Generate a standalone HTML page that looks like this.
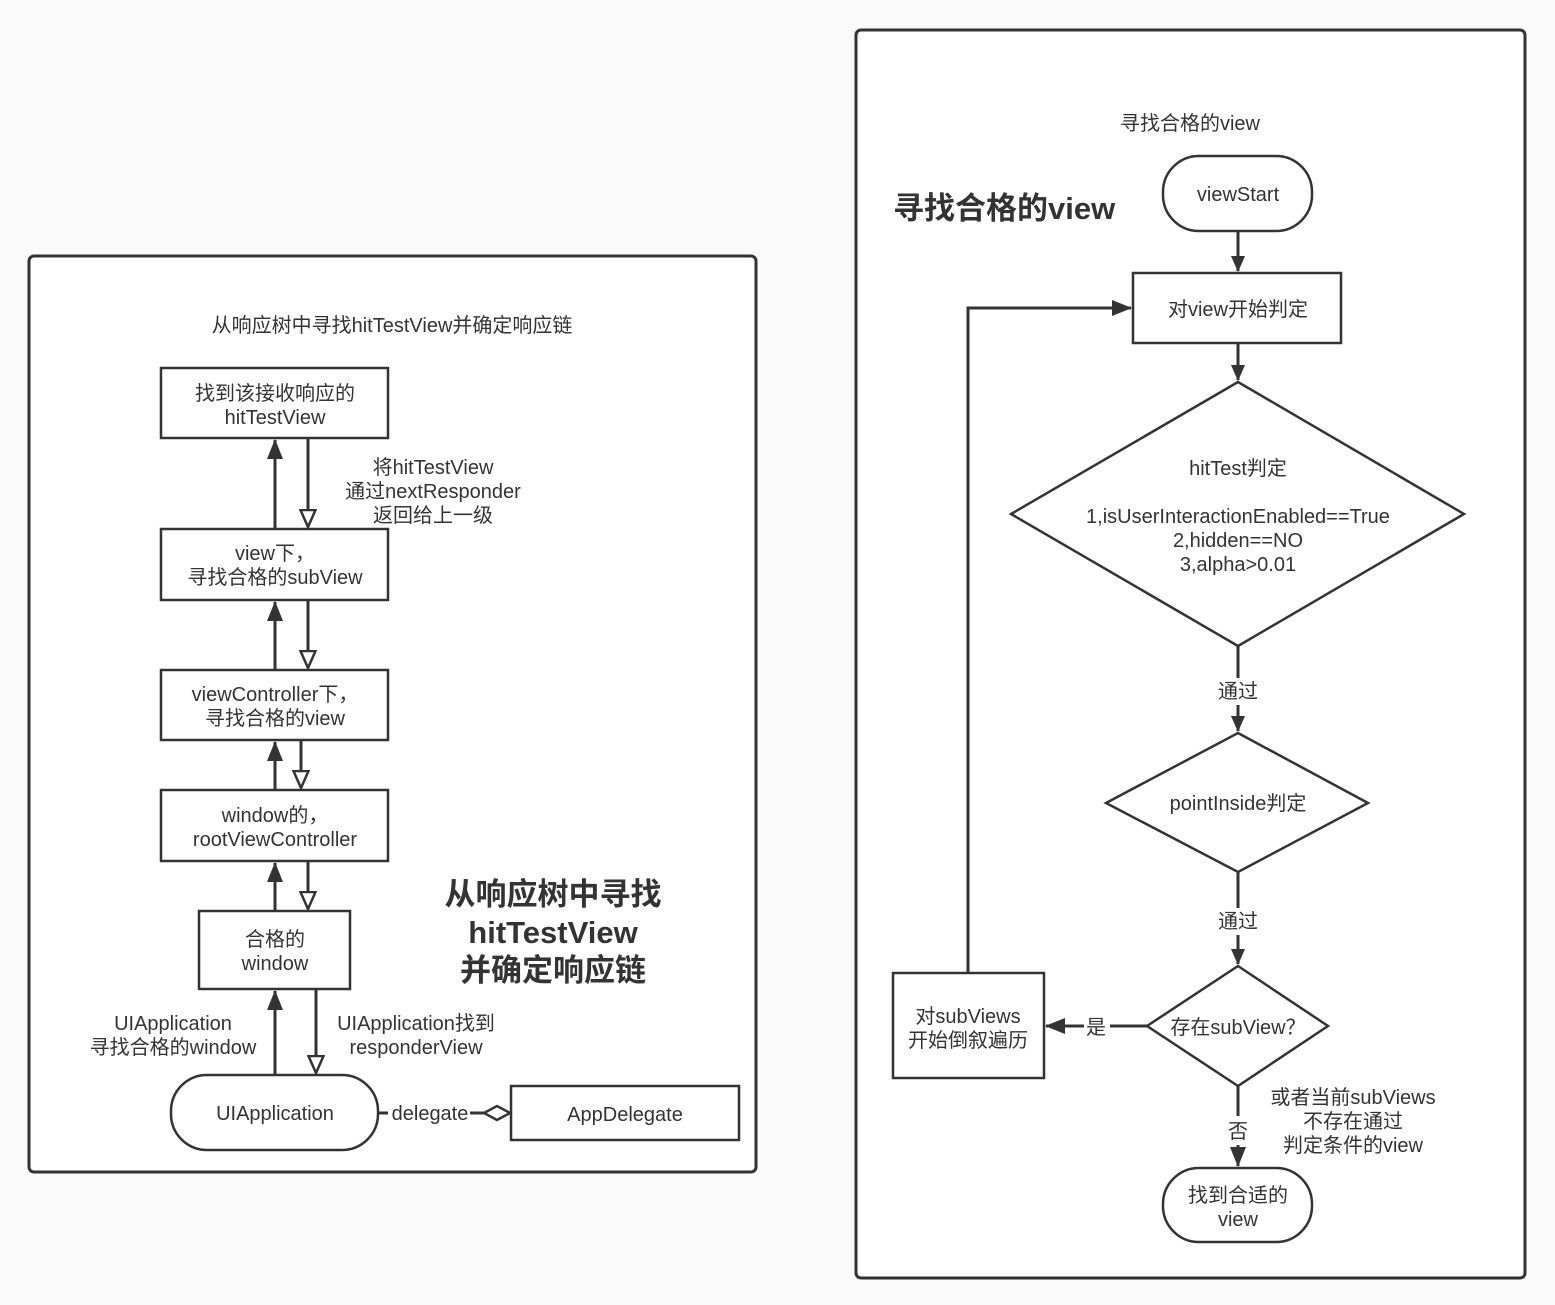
<!DOCTYPE html>
<html><head><meta charset="utf-8"><style>
html,body{margin:0;padding:0;background:#fafafa}
svg{display:block}
text{font-family:"Liberation Sans","Noto Sans CJK SC",sans-serif;fill:#333;font-size:20px}
.big{font-size:31px;font-weight:bold}
</style></head><body>
<svg width="1555" height="1305" viewBox="0 0 1555 1305" xmlns="http://www.w3.org/2000/svg">
<defs>
<marker id="sol" markerWidth="20" markerHeight="16" refX="19" refY="8" orient="auto" markerUnits="userSpaceOnUse" viewBox="0 0 20 16"><path d="M0,0 L20,8 L0,16 z" fill="#333"/></marker>
<marker id="sol2" markerWidth="16" markerHeight="14" refX="15" refY="7" orient="auto" markerUnits="userSpaceOnUse" viewBox="0 0 16 14"><path d="M0,0 L16,7 L0,14 z" fill="#333"/></marker>
<marker id="hol" markerWidth="20" markerHeight="18" refX="18" refY="9" orient="auto" markerUnits="userSpaceOnUse" viewBox="0 0 20 18"><path d="M1,1.5 L18,9 L1,16.5 z" fill="#fff" stroke="#333" stroke-width="2.5"/></marker>
</defs>
<g stroke="#333" stroke-width="3" fill="#fff">
<rect x="29" y="256" width="727" height="916" rx="5"/>
<rect x="856" y="30" width="669" height="1248" rx="5"/>
</g>
<g stroke="#333" stroke-width="2.5" fill="#fff">
<rect x="161" y="368" width="227" height="70"/>
<rect x="161" y="529" width="227" height="71"/>
<rect x="161" y="670" width="227" height="70"/>
<rect x="161" y="790" width="227" height="71"/>
<rect x="199" y="911" width="151" height="78"/>
<rect x="171" y="1075" width="207" height="75" rx="36"/>
<rect x="511" y="1086" width="228" height="54"/>
<rect x="1163" y="156" width="149" height="75" rx="36"/>
<rect x="1133" y="273" width="208" height="70"/>
<polygon points="1238,382 1464,514 1238,646 1011,514"/>
<polygon points="1238,733 1368,803 1238,872 1106,803"/>
<polygon points="1238,966 1328,1026 1238,1086 1147,1026"/>
<rect x="893" y="973" width="151" height="105"/>
<rect x="1163" y="1168" width="149" height="74" rx="36"/>
</g>
<g stroke="#333" stroke-width="3" fill="none">
<line x1="275" y1="529" x2="275" y2="440" marker-end="url(#sol)"/>
<line x1="308" y1="438" x2="308" y2="527" marker-end="url(#hol)"/>
<line x1="275" y1="670" x2="275" y2="602" marker-end="url(#sol)"/>
<line x1="308" y1="600" x2="308" y2="668" marker-end="url(#hol)"/>
<line x1="275" y1="790" x2="275" y2="742" marker-end="url(#sol)"/>
<line x1="301" y1="740" x2="301" y2="788" marker-end="url(#hol)"/>
<line x1="275" y1="911" x2="275" y2="863" marker-end="url(#sol)"/>
<line x1="308" y1="861" x2="308" y2="909" marker-end="url(#hol)"/>
<line x1="275" y1="1075" x2="275" y2="991" marker-end="url(#sol)"/>
<line x1="316" y1="989" x2="316" y2="1073" marker-end="url(#hol)"/>
<line x1="378" y1="1113" x2="388" y2="1113"/>
<line x1="470" y1="1113" x2="484" y2="1113"/>
<path d="M484,1113 L497,1106 L510,1113 L497,1120 z" stroke-width="2.5" fill="#fff"/>
<line x1="1238" y1="231" x2="1238" y2="271" marker-end="url(#sol2)"/>
<line x1="1238" y1="343" x2="1238" y2="380" marker-end="url(#sol2)"/>
<line x1="1238" y1="646" x2="1238" y2="678"/>
<line x1="1238" y1="705" x2="1238" y2="731" marker-end="url(#sol2)"/>
<line x1="1238" y1="872" x2="1238" y2="908"/>
<line x1="1238" y1="935" x2="1238" y2="964" marker-end="url(#sol2)"/>
<line x1="1147" y1="1026" x2="1110" y2="1026"/>
<line x1="1084" y1="1026" x2="1046" y2="1026" marker-end="url(#sol)"/>
<line x1="1238" y1="1086" x2="1238" y2="1116"/>
<line x1="1238" y1="1145" x2="1238" y2="1166" marker-end="url(#sol)"/>
<polyline points="968,973 968,308 1131,308" marker-end="url(#sol)"/>
</g>
<g text-anchor="middle">
<text x="392" y="332">从响应树中寻找hitTestView并确定响应链</text>
<text x="275" y="400">找到该接收响应的</text><text x="275" y="424">hitTestView</text>
<text x="433" y="474">将hitTestView</text><text x="433" y="498">通过nextResponder</text><text x="433" y="522">返回给上一级</text>
<text x="275" y="560">view下，</text><text x="275" y="584">寻找合格的subView</text>
<text x="275" y="701">viewController下，</text><text x="275" y="725">寻找合格的view</text>
<text x="275" y="822">window的，</text><text x="275" y="846">rootViewController</text>
<text x="275" y="946">合格的</text><text x="275" y="970">window</text>
<text x="173" y="1030">UIApplication</text><text x="173" y="1054">寻找合格的window</text>
<text x="416" y="1030">UIApplication找到</text><text x="416" y="1054">responderView</text>
<text x="275" y="1120">UIApplication</text>
<text x="430" y="1120">delegate</text>
<text x="625" y="1121">AppDelegate</text>
<text x="553" y="905" class="big">从响应树中寻找</text>
<text x="553" y="943" class="big">hitTestView</text>
<text x="553" y="981" class="big">并确定响应链</text>
<text x="1190" y="130">寻找合格的view</text>
<text x="1238" y="201">viewStart</text>
<text x="1238" y="316">对view开始判定</text>
<text x="1238" y="475">hitTest判定</text>
<text x="1238" y="523">1,isUserInteractionEnabled==True</text>
<text x="1238" y="547">2,hidden==NO</text>
<text x="1238" y="571">3,alpha&gt;0.01</text>
<text x="1238" y="698">通过</text>
<text x="1238" y="810">pointInside判定</text>
<text x="1238" y="928">通过</text>
<text x="1238" y="1034">存在subView？</text>
<text x="1096" y="1034">是</text>
<text x="1238" y="1138">否</text>
<text x="968" y="1023">对subViews</text><text x="968" y="1047">开始倒叙遍历</text>
<text x="1353" y="1104">或者当前subViews</text><text x="1353" y="1128">不存在通过</text><text x="1353" y="1152">判定条件的view</text>
<text x="1238" y="1202">找到合适的</text><text x="1238" y="1226">view</text>
</g>
<text x="893" y="219" class="big">寻找合格的view</text>
</svg>
</body></html>
